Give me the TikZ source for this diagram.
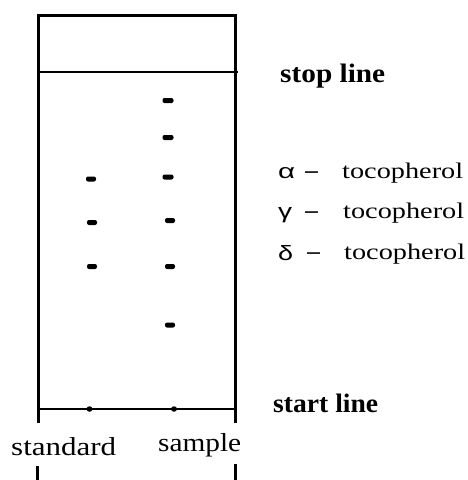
\documentclass[tikz,border=0pt]{standalone}
\usepackage{fontspec}
\setmainfont{Liberation Serif}
\newfontfamily\greekf{Liberation Sans}
\usepackage{graphicx}
\usetikzlibrary{shapes.geometric}
\begin{document}
\begin{tikzpicture}[x=1pt,y=-1pt,
  thick border/.style={line width=3pt},
  spot/.style={fill=black,inner sep=0pt,minimum width=10pt,minimum height=5pt,rounded corners=2pt},
  origin dot/.style={fill=black,ellipse,inner sep=0pt,minimum width=6pt,minimum height=5.5pt},
  label/.style={inner sep=0pt,anchor=base west}]
\useasboundingbox (0,0) rectangle (468,480);
% frame corners
\coordinate (tl) at (38,15);
\coordinate (tr) at (235.5,15);
\coordinate (bl) at (38,423);
\coordinate (br) at (235.5,423);
\coordinate (bl2) at (37.5,466);
\coordinate (bl3) at (37.5,481);
\coordinate (br2) at (235.5,464);
\coordinate (br3) at (235.5,481);
\coordinate (stopL) at (38,72);
\coordinate (stopR) at (238,72);
\coordinate (startL) at (38,409);
\coordinate (startR) at (235.5,409);
\draw[thick border] (bl) -- (tl) -- (tr) -- (br);
\draw[thick border] (bl2) -- (bl3);
\draw[thick border] (br2) -- (br3);
\draw[line width=1.5pt] (stopL) -- (stopR);
\draw[line width=2pt] (startL) -- (startR);
% origin dots
\node[origin dot] (d1) at (89.5,409) {};
\node[origin dot] (d2) at (174,409) {};
% standard spots
\node[spot] (s1) at (91,179) {};
\node[spot] (s2) at (92,222.5) {};
\node[spot] (s3) at (92,266.5) {};
% sample spots
\node[spot,minimum width=11pt] (p1) at (168,100.5) {};
\node[spot,minimum width=11pt] (p2) at (168,137.5) {};
\node[spot,minimum width=11pt] (p3) at (168,177) {};
\node[spot] (p4) at (170,220.5) {};
\node[spot] (p5) at (170,266.5) {};
\node[spot] (p6) at (170,325) {};
% labels
\node[label] (stop) at (280,82) {\resizebox{105pt}{18.5pt}{\bfseries stop line}};
\node[label] (start) at (273,412) {\resizebox{105pt}{18.5pt}{\bfseries start line}};
\node[label] (std) at (11,455) {\resizebox{105pt}{18pt}{standard}};
\node[label] (smp) at (158,451) {\resizebox{83pt}{18pt}{sample}};
% tocopherols
\node[label] (ga) at (278,178.5) {\resizebox{17pt}{11pt}{\greekf α}};
\node[label] (da) at (305,178.5) {\resizebox{13pt}{!}{\greekf –}};
\node[label] (ta) at (342,178) {\resizebox{121pt}{15.5pt}{tocopherol}};
\node[label] (gg) at (278,218.5) {\resizebox{14pt}{11pt}{\greekf γ}};
\node[label] (dg) at (305,218.5) {\resizebox{13pt}{!}{\greekf –}};
\node[label] (tg) at (343,218) {\resizebox{121pt}{15.5pt}{tocopherol}};
\node[label] (gd) at (278,260) {\resizebox{15pt}{15pt}{\greekf δ}};
\node[label] (dd) at (307,259) {\resizebox{13pt}{!}{\greekf –}};
\node[label] (td) at (344,259) {\resizebox{121pt}{15.5pt}{tocopherol}};
\end{tikzpicture}
\end{document}
